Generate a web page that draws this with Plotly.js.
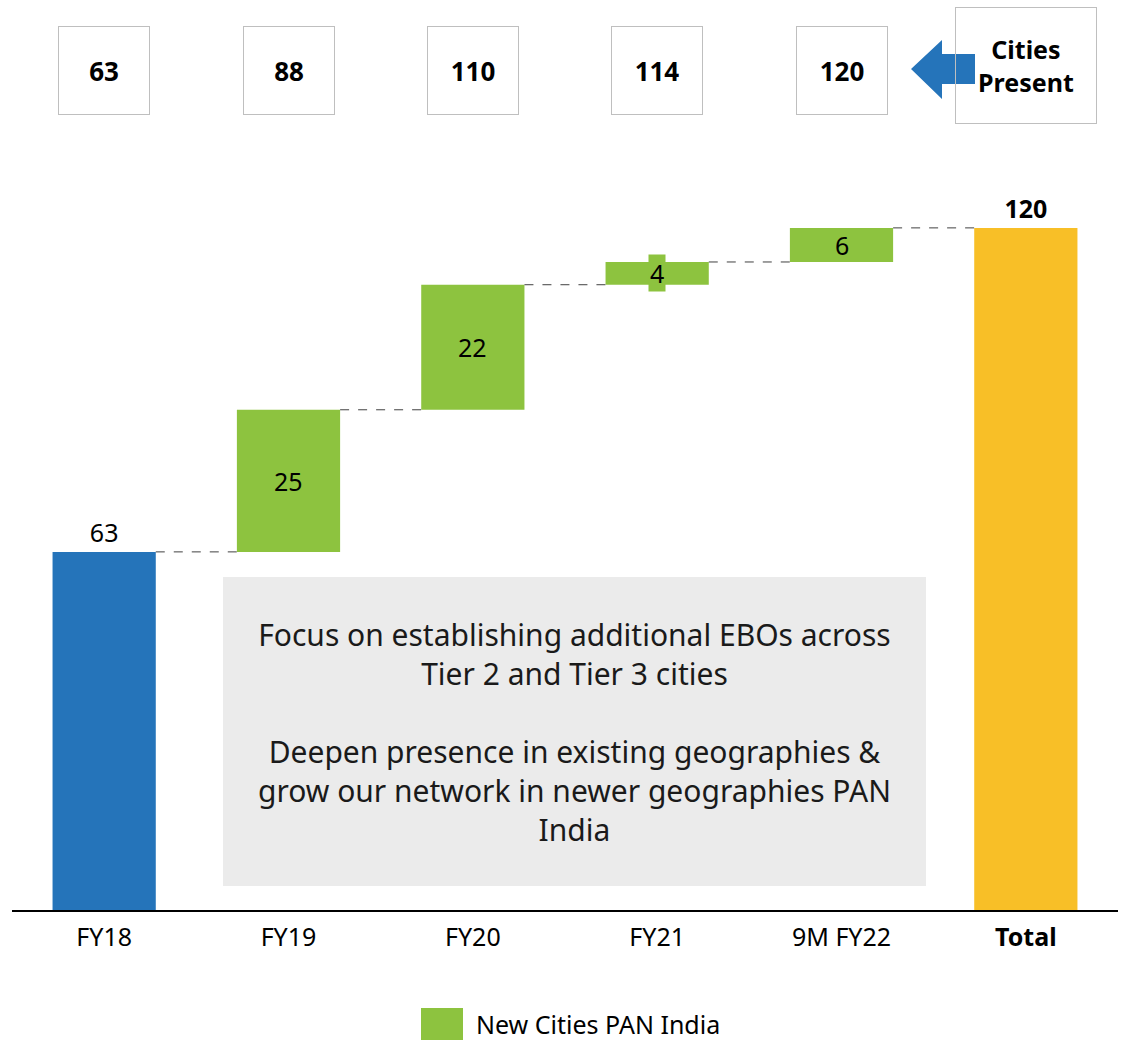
<!DOCTYPE html>
<html><head><meta charset="utf-8">
<script src="https://cdn.plot.ly/plotly-3.0.1.min.js"></script>
<style>html,body{margin:0;padding:0;background:#fff}#c{width:1127px;height:1045px}</style>
</head><body><div id="c"></div>
<script>
const categories = ['FY18','FY19','FY20','FY21','9M FY22','Total'];
const tickLabels = ['FY18','FY19','FY20','FY21','9M FY22','<b>Total</b>'];
const startValue = 63;
const stepCategories = ['FY19','FY20','FY21','9M FY22'];
const stepValues = [25,22,4,6];
const totalValue = 120;
const citiesPresent = [63,88,110,114,120];
const citiesCategories = ['FY18','FY19','FY20','FY21','9M FY22'];
const noteLines = ['Focus on establishing additional EBOs across','Tier 2 and Tier 3 cities','','Deepen presence in existing geographies &','grow our network in newer geographies PAN','India'];

const BLUE='#2574BA', GREEN='#8DC33F', YELLOW='#F8BF27';
const FONT='Noto Sans, Open Sans, sans-serif';
const W=0.56;

const stepBases=[]; let run=startValue;
stepValues.forEach(v=>{stepBases.push(run); run+=v;});

const traces=[
 {type:'bar',x:[categories[0]],y:[startValue],marker:{color:BLUE},width:W,showlegend:false,
  text:[String(startValue)],textposition:'outside',textfont:{size:25,color:'#000',family:FONT},cliponaxis:false,hoverinfo:'skip'},
 {type:'bar',name:'New Cities PAN India',x:stepCategories,y:stepValues,base:stepBases,marker:{color:GREEN},width:W,showlegend:false,hoverinfo:'skip'},
 {type:'bar',x:[categories[5]],y:[totalValue],marker:{color:YELLOW},width:W,showlegend:false,
  text:['<b>'+totalValue+'</b>'],textposition:'outside',textfont:{size:25,color:'#000',family:FONT},cliponaxis:false,hoverinfo:'skip'}
];

const L=12,R=9,T=150,B=135,PW=1127-L-R,PH=1045-T-B;
const px=x=>(x-L)/PW, py=y=>(1045-B-y)/PH;

const shapes=[];
const levels=[startValue]; stepValues.forEach((v,i)=>levels.push(stepBases[i]+v));
for(let i=0;i<levels.length;i++){
  shapes.push({type:'line',xref:'x',yref:'y',x0:i+W/2,x1:i+1-W/2,y0:levels[i],y1:levels[i],line:{color:'#404040',width:1,dash:'dash'}});
}
shapes.push({type:'rect',xref:'paper',yref:'paper',x0:px(223),x1:px(926),y0:py(886),y1:py(577),fillcolor:'#EBEBEB',line:{width:0},layer:'below'});
shapes.push({type:'rect',xref:'paper',yref:'paper',x0:px(421),x1:px(463),y0:py(1040),y1:py(1008),fillcolor:GREEN,line:{width:0}});
const ap=[[911,69],[942,40],[942,54],[975,54],[975,84],[942,84],[942,99]];
shapes.push({type:'path',xref:'paper',yref:'paper',layer:'above',fillcolor:BLUE,line:{width:0},
  path:'M'+ap.map(p=>px(p[0])+','+py(p[1])).join(' L')+' Z'});

const annotations=[];
stepValues.forEach((v,i)=>{
  const a={x:stepCategories[i],y:stepBases[i]+v/2,xref:'x',yref:'y',xanchor:'center',yanchor:'middle',text:String(v),showarrow:false,
    font:{size:25,color:'#000',family:FONT},borderpad:1};
  if(v<5) a.bgcolor=GREEN;
  annotations.push(a);
});
citiesPresent.forEach((v,i)=>{
  annotations.push({x:citiesCategories[i],y:py(70.5),xref:'x',yref:'paper',xanchor:'center',yanchor:'middle',text:'<b>'+v+'</b>',showarrow:false,
    width:88,height:85,bordercolor:'#BFBFBF',borderwidth:1,bgcolor:'#fff',font:{size:26,color:'#000',family:FONT}});
});
annotations.push({x:'Total',y:py(65.5),xref:'x',yref:'paper',xanchor:'center',yanchor:'middle',text:'<b>Cities<br>Present</b>',showarrow:false,
  width:138,height:113,bordercolor:'#BFBFBF',borderwidth:1,font:{size:25,color:'#000',family:FONT}});
annotations.push({x:px(574.5),y:py(731.5),xref:'paper',yref:'paper',xanchor:'center',yanchor:'middle',text:noteLines.join('<br>'),showarrow:false,
  font:{size:30,color:'#1a1a1a',family:FONT},align:'center'});
annotations.push({x:px(474),y:py(1024),xref:'paper',yref:'paper',xanchor:'left',yanchor:'middle',text:'New Cities PAN India',showarrow:false,
  font:{size:25,color:'#000',family:FONT}});

const layout={
  width:1127,height:1045,margin:{l:L,r:R,t:T,b:B},
  paper_bgcolor:'#fff',plot_bgcolor:'#fff',barmode:'overlay',showlegend:false,
  font:{family:FONT,size:25,color:'#000'},
  xaxis:{type:'category',categoryorder:'array',categoryarray:categories,tickvals:categories,ticktext:tickLabels,
    showline:true,linecolor:'#000',linewidth:2,showgrid:false,zeroline:false,ticks:'',ticklabelstandoff:4,
    tickfont:{size:25,color:'#000'},fixedrange:true},
  yaxis:{range:[0,133.7],visible:false,showgrid:false,zeroline:false,fixedrange:true},
  shapes:shapes,annotations:annotations
};
Plotly.newPlot('c',traces,layout,{displayModeBar:false,staticPlot:true});
</script></body></html>
